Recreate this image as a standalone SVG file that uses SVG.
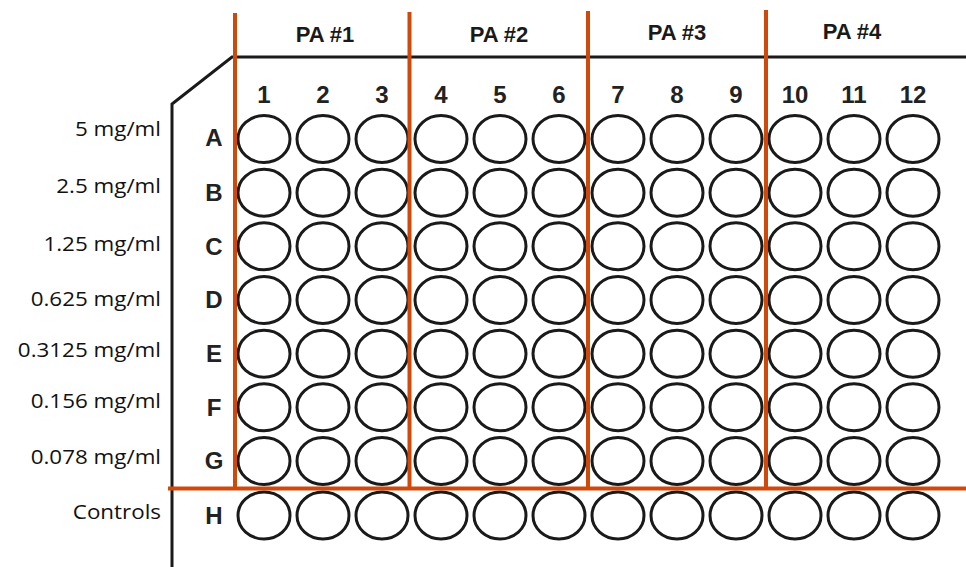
<svg xmlns="http://www.w3.org/2000/svg" width="966" height="567" viewBox="0 0 966 567">
<style>
.well{fill:none;stroke:#1a1a1a;stroke-width:3}
.plate{fill:none;stroke:#1a1a1a;stroke-width:3}
.div{stroke:#CF4A0A;stroke-width:4;fill:none}
.pa{font-family:"Liberation Sans",Arial,sans-serif;font-weight:bold;font-size:22px;fill:#1a1a1a;text-anchor:middle}
.num{font-family:"Liberation Sans",Arial,sans-serif;font-weight:bold;font-size:24px;fill:#222;text-anchor:middle}
.conc{font-family:"Open Sans","Liberation Sans",sans-serif;font-size:20px;fill:#111;text-anchor:end}
</style>
<defs>
<g id="row">
<ellipse class="well" cx="264" cy="0" rx="26" ry="23.5"/>
<ellipse class="well" cx="323" cy="0" rx="26" ry="23.5"/>
<ellipse class="well" cx="382" cy="0" rx="26" ry="23.5"/>
<ellipse class="well" cx="441" cy="0" rx="26" ry="23.5"/>
<ellipse class="well" cx="500" cy="0" rx="26" ry="23.5"/>
<ellipse class="well" cx="559" cy="0" rx="26" ry="23.5"/>
<ellipse class="well" cx="618" cy="0" rx="26" ry="23.5"/>
<ellipse class="well" cx="677" cy="0" rx="26" ry="23.5"/>
<ellipse class="well" cx="736" cy="0" rx="26" ry="23.5"/>
<ellipse class="well" cx="795" cy="0" rx="26" ry="23.5"/>
<ellipse class="well" cx="854" cy="0" rx="26" ry="23.5"/>
<ellipse class="well" cx="913" cy="0" rx="26" ry="23.5"/>
</g>
</defs>
<rect width="966" height="567" fill="#ffffff"/>
<g id="plate">
<path class="plate" d="M966 57 L232 57 L172 104 L172 567"/>
</g>
<g id="column-numbers">
<text class="num" x="264" y="103">1</text>
<text class="num" x="323" y="103">2</text>
<text class="num" x="382" y="103">3</text>
<text class="num" x="441" y="103">4</text>
<text class="num" x="500" y="103">5</text>
<text class="num" x="559" y="103">6</text>
<text class="num" x="618" y="103">7</text>
<text class="num" x="677" y="103">8</text>
<text class="num" x="736" y="103">9</text>
<text class="num" x="795" y="103">10</text>
<text class="num" x="854" y="103">11</text>
<text class="num" x="913" y="103">12</text>
</g>
<g id="row-A"><text class="conc" transform="translate(161,136) scale(1.12,1)">5 mg/ml</text><text class="num" x="214" y="146">A</text><use href="#row" y="139"/></g>
<g id="row-B"><text class="conc" transform="translate(161,193) scale(1.12,1)">2.5 mg/ml</text><text class="num" x="214" y="201">B</text><use href="#row" y="192.7"/></g>
<g id="row-C"><text class="conc" transform="translate(161,251) scale(1.12,1)">1.25 mg/ml</text><text class="num" x="214" y="255">C</text><use href="#row" y="246.3"/></g>
<g id="row-D"><text class="conc" transform="translate(161,306) scale(1.12,1)">0.625 mg/ml</text><text class="num" x="214" y="308">D</text><use href="#row" y="300"/></g>
<g id="row-E"><text class="conc" transform="translate(161,357) scale(1.12,1)">0.3125 mg/ml</text><text class="num" x="214" y="362">E</text><use href="#row" y="353.7"/></g>
<g id="row-F"><text class="conc" transform="translate(161,408) scale(1.12,1)">0.156 mg/ml</text><text class="num" x="214" y="416">F</text><use href="#row" y="407.3"/></g>
<g id="row-G"><text class="conc" transform="translate(161,464) scale(1.12,1)">0.078 mg/ml</text><text class="num" x="214" y="469">G</text><use href="#row" y="461"/></g>
<g id="row-H"><text class="conc" transform="translate(161,519) scale(1.12,1)">Controls</text><text class="num" x="214" y="524">H</text><use href="#row" y="515.5"/></g>
<g id="groups">
<text class="pa" x="325" y="42">PA #1</text>
<text class="pa" x="499" y="42">PA #2</text>
<text class="pa" x="677" y="40">PA #3</text>
<text class="pa" x="852" y="39">PA #4</text>
</g>
<g id="connectors">
<line class="div" x1="235" y1="13" x2="235" y2="490"/>
<line class="div" x1="409.5" y1="12" x2="409.5" y2="490"/>
<line class="div" x1="588" y1="11" x2="588" y2="490"/>
<line class="div" x1="766" y1="10" x2="766" y2="490"/>
<line class="div" x1="168" y1="488.5" x2="966" y2="488.5"/>
</g>
</svg>
